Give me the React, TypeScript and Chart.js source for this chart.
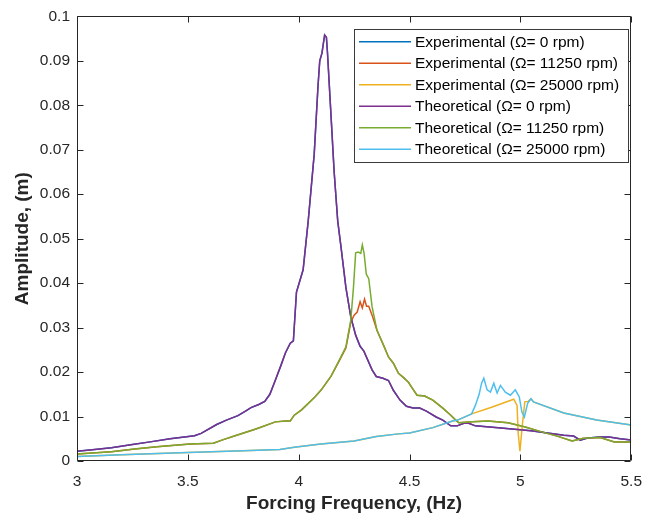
import React, { useEffect, useRef } from "react";
import { Chart, registerables } from "chart.js";

Chart.register(...registerables);

// ---- Data ----
const theo0Freq = [3.0, 3.08, 3.155, 3.25, 3.33, 3.42, 3.53, 3.56, 3.63, 3.674, 3.726, 3.76, 3.785, 3.82, 3.847, 3.87, 3.895, 3.92, 3.94, 3.962, 3.976, 3.99, 4.02, 4.043, 4.07, 4.087, 4.095, 4.105, 4.117, 4.125, 4.13, 4.147, 4.16, 4.176, 4.19, 4.213, 4.235, 4.257, 4.277, 4.294, 4.331, 4.35, 4.38, 4.405, 4.427, 4.457, 4.486, 4.516, 4.546, 4.576, 4.62, 4.65, 4.686, 4.715, 4.745, 4.767, 4.797, 4.9, 5.048, 5.196, 5.24, 5.27, 5.307, 5.358, 5.4, 5.45, 5.5];
const theo0Amp = [0.0022, 0.0026, 0.003, 0.0037, 0.0043, 0.005, 0.0057, 0.0062, 0.0082, 0.0092, 0.0102, 0.0112, 0.012, 0.0127, 0.0134, 0.015, 0.0182, 0.0215, 0.0243, 0.0265, 0.027, 0.038, 0.043, 0.054, 0.069, 0.0842, 0.09, 0.0917, 0.0958, 0.0953, 0.0917, 0.0766, 0.065, 0.054, 0.0485, 0.039, 0.0324, 0.0283, 0.0258, 0.0247, 0.0205, 0.019, 0.0186, 0.0181, 0.0159, 0.0137, 0.0123, 0.0119, 0.0119, 0.0112, 0.0099, 0.0092, 0.0079, 0.0079, 0.0085, 0.0085, 0.0079, 0.0075, 0.0068, 0.0058, 0.0056, 0.0047, 0.0052, 0.0054, 0.0054, 0.005, 0.0047];

const exp0Freq = theo0Freq;
const exp0Amp = theo0Amp;

const theo11250Freq = [3.0, 3.155, 3.26, 3.36, 3.51, 3.615, 3.66, 3.72, 3.807, 3.895, 3.94, 3.962, 3.98, 4.013, 4.073, 4.102, 4.146, 4.183, 4.213, 4.235, 4.247, 4.257, 4.269, 4.28, 4.287, 4.295, 4.305, 4.316, 4.331, 4.353, 4.383, 4.405, 4.427, 4.45, 4.472, 4.495, 4.516, 4.534, 4.568, 4.605, 4.65, 4.686, 4.708, 4.723, 4.782, 4.855, 4.944, 5.018, 5.092, 5.166, 5.233, 5.285, 5.36, 5.424, 5.5];
const theo11250Amp = [0.0016, 0.0021, 0.0027, 0.0032, 0.0038, 0.004, 0.0048, 0.0058, 0.0072, 0.0088, 0.009, 0.009, 0.0103, 0.0115, 0.0144, 0.016, 0.0191, 0.0227, 0.0257, 0.0317, 0.039, 0.0468, 0.047, 0.0467, 0.0486, 0.0467, 0.042, 0.041, 0.0347, 0.0294, 0.026, 0.0234, 0.022, 0.0197, 0.0188, 0.0177, 0.0161, 0.0148, 0.0146, 0.0137, 0.0119, 0.0103, 0.0092, 0.0086, 0.0088, 0.009, 0.0086, 0.0077, 0.0066, 0.0056, 0.0045, 0.0051, 0.0053, 0.0043, 0.0043];

const exp11250Freq = [3.0, 3.155, 3.26, 3.36, 3.51, 3.615, 3.66, 3.72, 3.807, 3.895, 3.94, 3.962, 3.98, 4.013, 4.073, 4.102, 4.146, 4.183, 4.213, 4.235, 4.25, 4.264, 4.277, 4.287, 4.297, 4.306, 4.316, 4.331, 4.353, 4.383, 4.405, 4.427, 4.45, 4.472, 4.495, 4.516, 4.534, 4.568, 4.605, 4.65, 4.686, 4.708, 4.723, 4.782, 4.855, 4.944, 5.018, 5.092, 5.166, 5.233, 5.285, 5.36, 5.424, 5.5];
const exp11250Amp = [0.0016, 0.0021, 0.0027, 0.0032, 0.0038, 0.004, 0.0048, 0.0058, 0.0072, 0.0088, 0.009, 0.009, 0.0103, 0.0115, 0.0144, 0.016, 0.0191, 0.0225, 0.0254, 0.0312, 0.0328, 0.0335, 0.0358, 0.0344, 0.0364, 0.0348, 0.0348, 0.0328, 0.0294, 0.026, 0.0234, 0.022, 0.0197, 0.0188, 0.0177, 0.0161, 0.0148, 0.0146, 0.0137, 0.0119, 0.0103, 0.0092, 0.0086, 0.0088, 0.009, 0.0086, 0.0077, 0.0066, 0.0056, 0.0045, 0.0051, 0.0053, 0.0043, 0.0043];

const theo25000Freq = [3.0, 3.2, 3.5, 3.75, 3.915, 3.98, 4.1, 4.25, 4.35, 4.45, 4.5, 4.605, 4.694, 4.717, 4.78, 4.797, 4.814, 4.825, 4.835, 4.85, 4.865, 4.88, 4.895, 4.91, 4.932, 4.955, 4.977, 4.995, 5.007, 5.018, 5.033, 5.048, 5.059, 5.196, 5.344, 5.43, 5.5];
const theo25000Amp = [0.001, 0.0014, 0.0019, 0.0023, 0.0026, 0.0031, 0.0038, 0.0045, 0.0055, 0.0061, 0.0063, 0.0075, 0.009, 0.0092, 0.0106, 0.0125, 0.015, 0.0175, 0.0186, 0.016, 0.0155, 0.0175, 0.0153, 0.017, 0.0155, 0.0148, 0.016, 0.0144, 0.011, 0.0099, 0.013, 0.014, 0.0133, 0.0108, 0.0092, 0.0086, 0.0081];

const exp25000Freq = [3.0, 3.2, 3.5, 3.75, 3.915, 3.98, 4.1, 4.25, 4.35, 4.45, 4.5, 4.605, 4.694, 4.717, 4.78, 4.87, 4.97, 4.985, 4.99, 4.998, 5.008, 5.02, 5.035, 5.048, 5.059, 5.196, 5.344, 5.43, 5.5];
const exp25000Amp = [0.001, 0.0014, 0.0019, 0.0023, 0.0026, 0.0031, 0.0038, 0.0045, 0.0055, 0.0061, 0.0063, 0.0075, 0.009, 0.0092, 0.0106, 0.0121, 0.0139, 0.0125, 0.0063, 0.0022, 0.0077, 0.0133, 0.0134, 0.014, 0.0133, 0.0108, 0.0092, 0.0086, 0.0081];

const seriesLabels = [
  "Experimental (\u03A9= 0 rpm)",
  "Experimental (\u03A9= 11250 rpm)",
  "Experimental (\u03A9= 25000 rpm)",
  "Theoretical (\u03A9= 0 rpm)",
  "Theoretical (\u03A9= 11250 rpm)",
  "Theoretical (\u03A9= 25000 rpm)",
];
const seriesColors = ["#0072BD", "#D95319", "#EDB120", "#7E2F8E", "#77AC30", "#4DBEEE"];
const seriesFreqs = [exp0Freq, exp11250Freq, exp25000Freq, theo0Freq, theo11250Freq, theo25000Freq];
const seriesAmps = [exp0Amp, exp11250Amp, exp25000Amp, theo0Amp, theo11250Amp, theo25000Amp];
// MATLAB draws later series on top; lower Chart.js order = drawn on top
const seriesOrder = [6, 5, 4, 3, 2, 1];

const xTickValues = [3, 3.5, 4, 4.5, 5, 5.5];
const yTickValues = [0, 0.01, 0.02, 0.03, 0.04, 0.05, 0.06, 0.07, 0.08, 0.09, 0.1];

const AXIS = "#262626";
const FONT = "'Liberation Sans', Arial, Helvetica, sans-serif";

const boxPlugin = {
  id: "matlabBox",
  afterDatasetsDraw(chart: any) {
    const { ctx, chartArea, scales } = chart;
    const { left, right, top, bottom } = chartArea;
    const L = Math.round(left) + 0.5;
    const R = Math.round(right) - 0.5;
    const T = Math.round(top) + 0.5;
    const B = Math.round(bottom) - 0.5;
    ctx.save();
    ctx.strokeStyle = AXIS;
    ctx.lineWidth = 1;
    ctx.beginPath();
    ctx.rect(L, T, R - L, B - T);
    ctx.stroke();
    const tl = 6;
    ctx.beginPath();
    xTickValues.forEach((v) => {
      const px = Math.round(scales.x.getPixelForValue(v)) + 0.5;
      ctx.moveTo(px, B);
      ctx.lineTo(px, B - tl);
      ctx.moveTo(px, T);
      ctx.lineTo(px, T + tl);
    });
    yTickValues.forEach((v) => {
      const py = Math.round(scales.y.getPixelForValue(v)) + 0.5;
      ctx.moveTo(L, py);
      ctx.lineTo(L + tl, py);
      ctx.moveTo(R, py);
      ctx.lineTo(R - tl, py);
    });
    ctx.stroke();

    // Legend
    const lx = 354, ly = 29, lw = 274, lh = 133;
    ctx.fillStyle = "#ffffff";
    ctx.fillRect(lx, ly, lw, lh);
    ctx.strokeStyle = "#3a3a3a";
    ctx.lineWidth = 1;
    ctx.strokeRect(lx + 0.5, ly + 0.5, lw, lh);
    ctx.font = `15.5px ${FONT}`;
    ctx.textBaseline = "middle";
    ctx.textAlign = "left";
    seriesLabels.forEach((lab, i) => {
      const y = 41.7 + i * 21.5;
      ctx.strokeStyle = seriesColors[i];
      ctx.lineWidth = 1.5;
      ctx.beginPath();
      ctx.moveTo(359, y);
      ctx.lineTo(411, y);
      ctx.stroke();
      ctx.fillStyle = "#000000";
      ctx.fillText(lab, 415, y + 1);
    });
    ctx.restore();
  },
};

export default function App() {
  const canvasRef = useRef<HTMLCanvasElement | null>(null);

  useEffect(() => {
    document.body.style.margin = "0";
    const canvas = canvasRef.current;
    if (!canvas) return;
    const datasets = seriesLabels.map((label, i) => ({
      label,
      data: seriesFreqs[i].map((f, j) => ({ x: f, y: seriesAmps[i][j] })),
      borderColor: seriesColors[i],
      backgroundColor: seriesColors[i],
      borderWidth: 1.5,
      pointRadius: 0,
      tension: 0,
      fill: false,
      order: seriesOrder[i],
    }));
    const chart = new Chart(canvas, {
      type: "line",
      data: { datasets },
      options: {
        animation: false,
        responsive: false,
        devicePixelRatio: 1,
        events: [],
        layout: { padding: { left: 0, right: 13, top: 15, bottom: 0 } },
        plugins: { legend: { display: false }, tooltip: { enabled: false } },
        scales: {
          x: {
            type: "linear",
            min: 3,
            max: 5.5,
            afterFit: (s: any) => { s.height = 58; },
            afterBuildTicks: (s: any) => { s.ticks = xTickValues.map((v) => ({ value: v })); },
            grid: { display: false, drawTicks: false },
            border: { display: false },
            ticks: {
              autoSkip: false,
              maxRotation: 0,
              padding: 11,
              color: AXIS,
              font: { family: FONT, size: 15.5 },
              callback: (v: any) => String(+Number(v).toFixed(2)),
            },
            title: {
              display: true,
              text: "Forcing Frequency, (Hz)",
              color: AXIS,
              font: { family: FONT, size: 19, weight: "bold" },
              padding: { top: 0, bottom: 4 },
            },
          },
          y: {
            type: "linear",
            min: 0,
            max: 0.1,
            afterFit: (s: any) => { s.width = 77; },
            afterBuildTicks: (s: any) => { s.ticks = yTickValues.map((v) => ({ value: v })); },
            grid: { display: false, drawTicks: false },
            border: { display: false },
            ticks: {
              autoSkip: false,
              padding: 7,
              color: AXIS,
              font: { family: FONT, size: 15.5 },
              callback: (v: any) => String(+Number(v).toFixed(2)),
            },
            title: {
              display: true,
              text: "Amplitude, (m)",
              color: AXIS,
              font: { family: FONT, size: 19, weight: "bold" },
              padding: { top: 11, bottom: 0 },
            },
          },
        },
      },
      plugins: [boxPlugin],
    });
    return () => chart.destroy();
  }, []);

  return (
    <div style={{ width: 653, height: 519 }}>
      <canvas ref={canvasRef} width={653} height={519} style={{ display: "block" }} />
    </div>
  );
}
